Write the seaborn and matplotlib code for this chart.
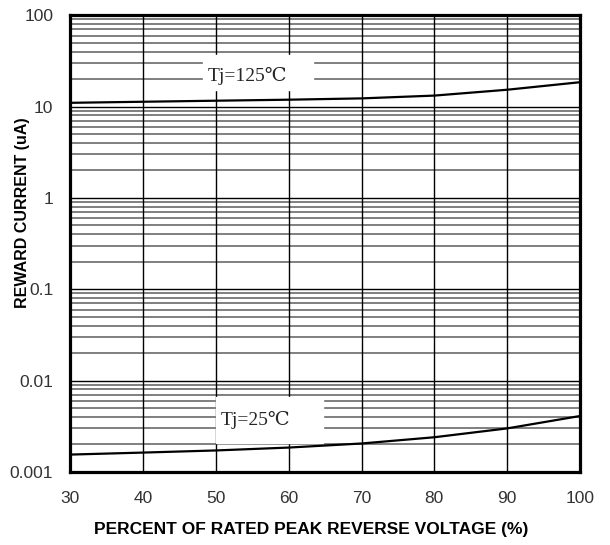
import numpy as np
import pandas as pd
import matplotlib
matplotlib.use("Agg")
import matplotlib.pyplot as plt
import seaborn as sns

VOLTAGE_PCT = [30, 40, 50, 60, 70, 80, 90, 100]
CURRENT_125C = [11.0, 11.3, 11.6, 11.9, 12.3, 13.2, 15.3, 18.5]
CURRENT_25C = [0.00155, 0.00163, 0.00172, 0.00185, 0.00205, 0.0024, 0.003, 0.0041]
Y_TICKS = [0.001, 0.01, 0.1, 1, 10, 100]
Y_TICK_LABELS = ["0.001", "0.01", "0.1", "1", "10", "100"]
X_TICKS = [30, 40, 50, 60, 70, 80, 90, 100]

sns.set_theme(style="white")
plt.rcParams["font.family"] = ["Liberation Sans", "DejaVu Sans"]

df = pd.DataFrame({
    "pct": VOLTAGE_PCT * 2,
    "current": CURRENT_125C + CURRENT_25C,
    "tj": ["125"] * len(VOLTAGE_PCT) + ["25"] * len(VOLTAGE_PCT),
})

fig = plt.figure(figsize=(6.1, 5.45), dpi=100)
ax = fig.add_axes([0.1148, 0.134, 0.8362, 0.838])

# log grid: minor lines in each decade, major at decades
for dec in range(-3, 2):
    for m in range(2, 10):
        ax.axhline(m * 10.0 ** dec, color="#6a6a6a", lw=1.2, zorder=1)
for v in Y_TICKS:
    ax.axhline(v, color="black", lw=1.0, zorder=1)
for x in X_TICKS:
    ax.axvline(x, color="black", lw=1.0, zorder=1)

sns.lineplot(data=df, x="pct", y="current", units="tj", estimator=None,
             color="black", lw=1.6, ax=ax, zorder=4)

ax.set_yscale("log")
ax.set_xlim(30, 100)
ax.set_ylim(0.001, 100)
ax.set_xticks(X_TICKS)
ax.set_xticklabels([str(x) for x in X_TICKS], fontsize=12.5, color="#333333")
ax.set_yticks(Y_TICKS)
ax.set_yticklabels(Y_TICK_LABELS, fontsize=12.5, color="#333333")
ax.minorticks_off()
ax.tick_params(axis="x", length=0, pad=14)
ax.tick_params(axis="y", length=0, pad=12)

for s in ax.spines.values():
    s.set_color("black")
    s.set_linewidth(2.3)
    s.set_zorder(5)

# white label boxes over the grid
label_font = ["Liberation Serif", "DejaVu Serif", "Noto Sans CJK SC"]
ax.fill_between([48.3, 63.4], 15.2, 36.5, color="white", zorder=3)
ax.text(54.3, 21.5, "Tj=125℃", ha="center", va="center", fontsize=14,
        family=label_font, zorder=5)
ax.fill_between([50.1, 64.7], 0.00207, 0.0066, color="white", zorder=3)
ax.text(55.4, 0.0037, "Tj=25℃", ha="center", va="center", fontsize=14,
        family=label_font, zorder=5)

ax.set_xlabel("PERCENT OF RATED PEAK REVERSE VOLTAGE (%)", fontsize=12.5,
              fontweight="bold", color="black")
ax.xaxis.set_label_coords(0.4725, -0.109)
ax.set_ylabel("REWARD CURRENT (uA)", fontsize=11.5, fontweight="bold",
              color="black")
ax.yaxis.set_label_coords(-0.078, 0.567)

fig.savefig("out.png", dpi=100)
